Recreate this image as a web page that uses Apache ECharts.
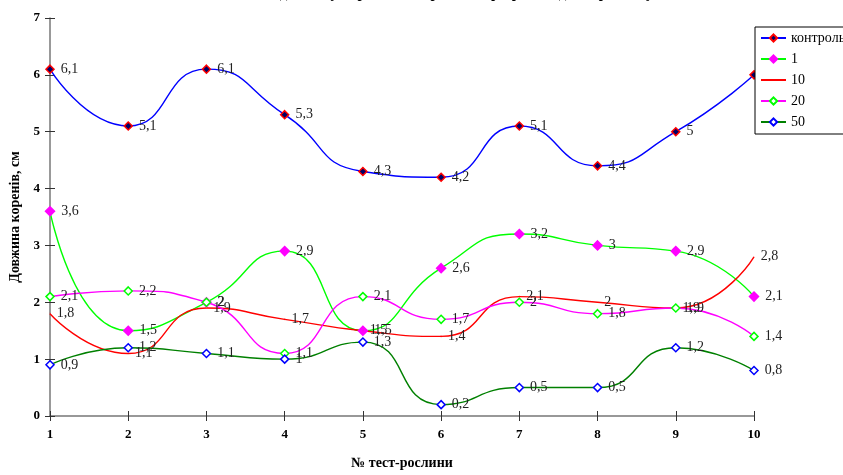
<!DOCTYPE html>
<html>
<head>
<meta charset="utf-8">
<script src="https://cdn.jsdelivr.net/npm/echarts@6/dist/echarts.min.js"></script>
<style>
  html, body { margin: 0; padding: 0; background: #fff; }
  #chart { width: 843px; height: 475px; }
</style>
</head>
<body>
<div id="chart"></div>
<script>
/* === Data === */
const plants = ['1', '2', '3', '4', '5', '6', '7', '8', '9', '10'];
const control = [6.1, 5.1, 6.1, 5.3, 4.3, 4.2, 5.1, 4.4, 5, 6];
const dose1 = [3.6, 1.5, 2, 2.9, 1.5, 2.6, 3.2, 3, 2.9, 2.1];
const dose10 = [1.8, 1.1, 1.9, 1.7, 1.5, 1.4, 2.1, 2, 1.9, 2.8];
const dose20 = [2.1, 2.2, 2, 1.1, 2.1, 1.7, 2, 1.8, 1.9, 1.4];
const dose50 = [0.9, 1.2, 1.1, 1, 1.3, 0.2, 0.5, 0.5, 1.2, 0.8];

const FONT = "'Liberation Serif', 'DejaVu Serif', serif";

function lineSeries(name, data, lineColor, symbol, symbolSize, fill, border) {
  return {
    name: name,
    type: 'line',
    data: data,
    smooth: 0.55,
    symbol: symbol,
    symbolSize: symbolSize,
    lineStyle: { color: lineColor, width: 1.4 },
    itemStyle: { color: fill, borderColor: border, borderWidth: 1.5 },
    label: {
      show: true,
      position: 'right',
      distance: 6,
      color: '#222',
      fontFamily: FONT,
      fontSize: 14,
      formatter: p => String(p.value).replace('.', ',')
    },
    emphasis: { disabled: true }
  };
}

const chart = echarts.init(document.getElementById('chart'));
chart.setOption({
  animation: false,
  title: {
    text: 'Вплив Cd на довжину коренів тест-рослин при різних дозах розчину',
    left: 'center',
    top: -18,
    textStyle: { fontFamily: FONT, fontSize: 15, fontWeight: 'bold', color: '#000' }
  },
  legend: {
    orient: 'vertical',
    left: 755,
    top: 27,
    itemWidth: 25,
    itemHeight: 9,
    itemGap: 7,
    padding: [4, 60, 5, 5],
    backgroundColor: '#fff',
    borderColor: '#000',
    borderWidth: 1,
    textStyle: { fontFamily: FONT, fontSize: 14, color: '#000' },
    data: [
      'контроль',
      '1',
      { name: '10', itemStyle: { opacity: 0 } },
      '20',
      '50'
    ]
  },
  grid: { left: 50, right: 89, top: 18, bottom: 57, containLabel: false },
  xAxis: [{
    type: 'category',
    data: plants,
    boundaryGap: false,
    name: '№ тест-рослини',
    nameLocation: 'middle',
    nameGap: 40,
    nameTextStyle: { fontFamily: FONT, fontSize: 14, fontWeight: 'bold', color: '#000' },
    axisLine: { lineStyle: { color: '#777', width: 1.5 } },
    axisTick: { show: true, length: 5, lineStyle: { color: '#333' }, alignWithLabel: true },
    axisLabel: { fontFamily: FONT, fontSize: 13, fontWeight: 'bold', color: '#000', margin: 12 },
    splitLine: { show: false }
  }, {
    type: 'category',
    data: plants,
    boundaryGap: false,
    position: 'bottom',
    axisLine: { show: false },
    axisTick: { show: true, inside: true, length: 5, lineStyle: { color: '#333' } },
    axisLabel: { show: false },
    splitLine: { show: false }
  }],
  yAxis: [{
    type: 'value',
    min: 0,
    max: 7,
    interval: 1,
    name: 'Довжина коренів, см',
    nameLocation: 'middle',
    nameGap: 25,
    nameTextStyle: { fontFamily: FONT, fontSize: 14, fontWeight: 'bold', color: '#000' },
    axisLine: { show: true, lineStyle: { color: '#777', width: 1.5 } },
    axisTick: { show: true, length: 5, lineStyle: { color: '#333' } },
    axisLabel: { fontFamily: FONT, fontSize: 13, fontWeight: 'bold', color: '#000', margin: 10 },
    splitLine: { show: false }
  }, {
    type: 'value',
    min: 0,
    max: 7,
    interval: 1,
    position: 'left',
    axisLine: { show: false },
    axisTick: { show: true, inside: true, length: 5, lineStyle: { color: '#333' } },
    axisLabel: { show: false },
    splitLine: { show: false }
  }],
  series: [
    lineSeries('контроль', control, '#0000FF', 'diamond', 8, '#000066', '#FF0000'),
    lineSeries('1', dose1, '#00FF00', 'diamond', 9, '#FF00FF', '#FF00FF'),
    lineSeries('10', dose10, '#FF0000', 'circle', 0.1, '#FF0000', '#FF0000'),
    lineSeries('20', dose20, '#FF00FF', 'diamond', 8, '#FFFFFF', '#00FF00'),
    lineSeries('50', dose50, '#008000', 'diamond', 8, '#FFFFFF', '#0000FF')
  ]
});
</script>
</body>
</html>
